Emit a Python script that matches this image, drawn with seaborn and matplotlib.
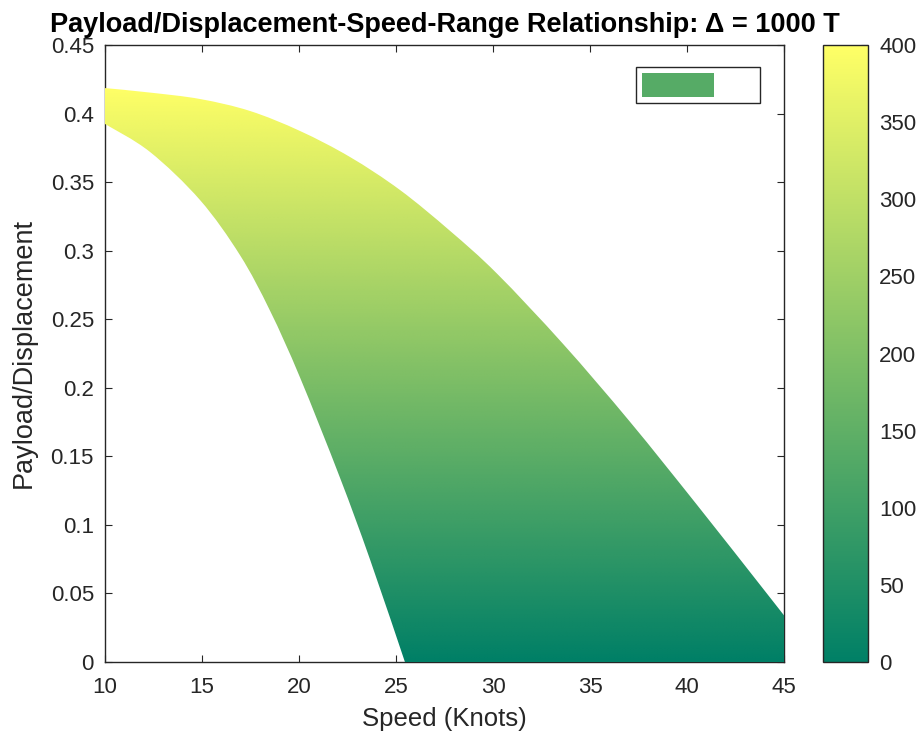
import numpy as np
import matplotlib
matplotlib.use("Agg")
import matplotlib.pyplot as plt
from matplotlib.patches import PathPatch, Patch
from matplotlib.path import Path
import seaborn as sns

# Upper edge of the feasible region (speed in knots, payload/displacement)
upper_speed = [10.0, 12.32, 14.90, 17.47, 20.05, 22.63, 25.21, 27.78, 30.21,
               33.61, 37.06, 40.52, 43.92, 45.0]
upper_pd = [0.4186, 0.4153, 0.4106, 0.4019, 0.3873, 0.3683, 0.3442, 0.3145,
            0.2832, 0.2320, 0.1752, 0.1145, 0.0535, 0.0340]

# Lower edge of the feasible region
lower_speed = [10.0, 12.32, 14.90, 16.96, 18.51, 20.05, 22.11, 23.66, 25.46]
lower_pd = [0.3924, 0.3720, 0.3369, 0.2967, 0.2561, 0.2076, 0.1345, 0.0748, 0.0]

# Range (nmi) shown by colour against payload/displacement
pd_levels = [0.0, 0.1, 0.2, 0.3, 0.42]
range_levels = [0, 95, 190, 286, 400]

cbar_ticks = [0, 50, 100, 150, 200, 250, 300, 350, 400]
x_ticks = [10, 15, 20, 25, 30, 35, 40, 45]
y_ticks = [0, 0.05, 0.1, 0.15, 0.2, 0.25, 0.3, 0.35, 0.4, 0.45]
legend_range = 135

sns.set_theme(style="ticks")
plt.rcParams["font.family"] = ["Liberation Sans", "DejaVu Sans"]
axis_gray = "#262626"
plt.rcParams.update({
    "axes.edgecolor": axis_gray,
    "xtick.color": axis_gray,
    "ytick.color": axis_gray,
    "axes.labelcolor": axis_gray,
})

cmap = sns.color_palette("summer", as_cmap=True)


def smooth_segments(xs, ys):
    """Cubic Bezier pieces (Catmull-Rom) running through the given points."""
    pts = np.column_stack([xs, ys])
    ext = np.vstack([pts[0], pts, pts[-1]])
    verts, codes = [], []
    for i in range(1, len(ext) - 2):
        p0, p1, p2, p3 = ext[i - 1], ext[i], ext[i + 1], ext[i + 2]
        verts += [p1 + (p2 - p0) / 6.0, p2 - (p3 - p1) / 6.0, p2]
        codes += [Path.CURVE4] * 3
    return verts, codes


fig = plt.figure(figsize=(9.17, 7.40), dpi=100)
ax = fig.add_axes([105 / 917, 78 / 740, 679 / 917, 617 / 740])
cax = fig.add_axes([823 / 917, 78 / 740, 45 / 917, 617 / 740])

# Vertical colour field: range as a function of payload/displacement
yy = np.linspace(0, 0.45, 600)
field = np.interp(yy, pd_levels, range_levels)[:, None] * np.ones((1, 4))
img = ax.imshow(field, origin="lower", extent=(10, 45, 0, 0.45), aspect="auto",
                cmap=cmap, vmin=0, vmax=400, interpolation="bilinear", zorder=3)

# Region outline: upper edge, down the right side, back along the lower edge
verts = [(upper_speed[0], upper_pd[0])]
codes = [Path.MOVETO]
v, c = smooth_segments(upper_speed, upper_pd)
verts += v
codes += c
verts.append((upper_speed[-1], lower_pd[-1]))
codes.append(Path.LINETO)
verts.append((lower_speed[-1], lower_pd[-1]))
codes.append(Path.LINETO)
v, c = smooth_segments(lower_speed[::-1], lower_pd[::-1])
verts += v
codes += c
verts.append((upper_speed[0], upper_pd[0]))
codes.append(Path.CLOSEPOLY)
region = PathPatch(Path(verts, codes), facecolor="none", edgecolor="none",
                   transform=ax.transData)
ax.add_patch(region)
img.set_clip_path(region)

ax.set_xlim(10, 45)
ax.set_ylim(0, 0.45)
ax.set_xticks(x_ticks)
ax.set_xticklabels([f"{v:g}" for v in x_ticks])
ax.set_yticks(y_ticks)
ax.set_yticklabels([f"{v:g}" for v in y_ticks])
ax.tick_params(direction="in", top=True, right=True, length=5, width=0.8,
               labelsize=16)
ax.tick_params(axis="x", pad=11)
ax.tick_params(axis="y", pad=8)
for sp in ax.spines.values():
    sp.set_linewidth(1.0)
    sp.set_visible(True)
    sp.set_zorder(2)

ax.set_xlabel("Speed (Knots)", fontsize=18.5, labelpad=6)
ax.set_ylabel("Payload/Displacement", fontsize=19.5, labelpad=10)
ax.set_title("Payload/Displacement-Speed-Range Relationship: Δ = 1000 T",
             fontsize=19.5, fontweight="bold", color="black", pad=9)

leg = ax.legend(handles=[Patch(facecolor=cmap(legend_range / 400), edgecolor="none")],
                labels=[""], loc="upper right",
                bbox_to_anchor=((760 - 105) / 679, (662 - 67) / 617),
                borderaxespad=0, fontsize=10, handlelength=5.18, handleheight=2.21,
                handletextpad=2.86, borderpad=0.45, fancybox=False, framealpha=1)
leg.get_frame().set_edgecolor(axis_gray)
leg.get_frame().set_linewidth(1.0)
leg.set_zorder(5)

cb = fig.colorbar(img, cax=cax, ticks=cbar_ticks)
cb.ax.tick_params(direction="in", length=5, width=0.8, labelsize=16, pad=8,
                  color=axis_gray)
cb.outline.set_edgecolor(axis_gray)
cb.outline.set_linewidth(1.0)

fig.savefig("out.png", dpi=100, facecolor="white")
